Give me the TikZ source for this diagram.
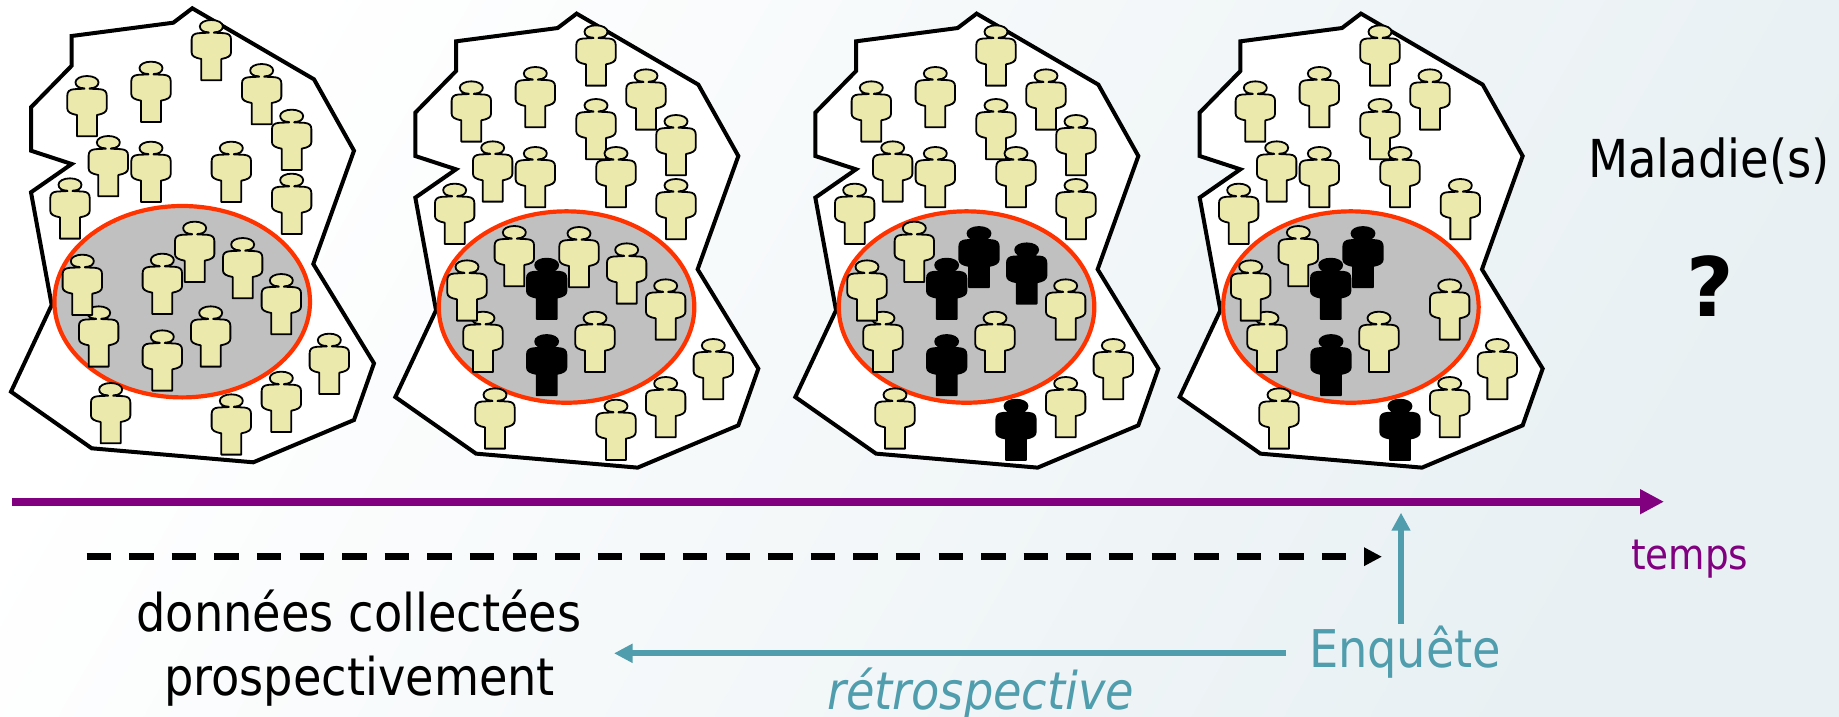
\documentclass[tikz,border=0pt]{standalone}
\usepackage{fontspec}
\usetikzlibrary{arrows.meta}
\setmainfont{DejaVu Sans}[FakeStretch=0.89]
\newfontfamily\qfont{DejaVu Sans}[FakeStretch=1.0]
\definecolor{bgdark}{HTML}{E8F0F3}
\definecolor{manfill}{HTML}{ECE9AC}
\definecolor{ellred}{HTML}{FF3300}
\definecolor{ellgrey}{HTML}{C0C0C0}
\definecolor{tealc}{HTML}{4F9DAD}
\definecolor{purplec}{HTML}{800080}
\def\manpath{(2.5,12.7) -- (13,13.2) .. controls (17.5,13.6) and (19.7,15.5) .. (19.7,19.5)
      -- (19.7,32.5) .. controls (19.7,36) and (16.5,37.8) .. (10,39)
      -- (10,60.3) -- (-10,60.3) -- (-10,39)
      .. controls (-16.5,37.8) and (-19.7,36) .. (-19.7,32.5)
      -- (-19.7,19.5) .. controls (-19.7,15.5) and (-17.5,13.6) .. (-13,13.2)
      -- (-2.5,12.7) -- (-3,12.3)
      .. controls (-8,12.3) and (-11.5,10) .. (-11.5,6.3)
      .. controls (-11.5,2.8) and (-6.5,0) .. (0,0)
      .. controls (6.5,0) and (11.5,2.8) .. (11.5,6.3)
      .. controls (11.5,10) and (8,12.3) .. (3,12.3) -- cycle}
\tikzset{
  x=1pt,y=-1pt,
  territory/.style={draw=black,fill=white,line width=4pt,miter limit=10},
  sickzone/.style={draw=ellred,fill=ellgrey,line width=4.2pt},
  lbl/.style={anchor=base west,inner sep=0pt,outer sep=0pt},
  pics/yman/.style={code={
    \path[draw=black,fill=manfill,line width=1.8pt,line join=round] \manpath;
  }},
  pics/bman/.style={code={
    \path[draw=black,fill=black,line width=1.8pt,line join=round] \manpath;
  }},
}
\newcommand\zone[2]{%
  \begin{scope}[shift={(#1,#2)}]
    \draw[territory] (192.3,8.3) -- (173.3,22.7) -- (71.7,36) -- (71.7,65.7) -- (31,107.3) -- (31,150.7) -- (71.7,164) -- (31,192.3) -- (51.7,305) -- (11,391.7) -- (91.7,448.3) -- (253.3,462.3) -- (354,420) -- (374,363.3) -- (313.3,264) -- (354,150.7) -- (314,79.3) -- cycle;
    \draw[sickzone] (182.2,301.7) ellipse [x radius=127.8, y radius=95.7];
  \end{scope}}
\begin{document}
\begin{tikzpicture}
\useasboundingbox (0,0) rectangle (1839,717);
\shade[top color=white,bottom color=bgdark,shading angle=60] (0,0) rectangle (1839,717);

\zone{0}{0}
\zone{384.33}{5.33}
\zone{784.33}{5.33}
\zone{1168.67}{5.33}

\foreach \a/\b in {634/60,453/185,785/192,261/228,875/329,325/408,453/425,694/425,875/521,210/535,584/665,728/714,487/761,296/919,247/764,844/822,632/919,487/991,988/1001,844/1115,332/1149,694/1183}
  \path ({\a/3},{\b/3}) pic {yman};

\begin{scope}[shift={(380,0)}]
\foreach \a/\b in {648/76,466/201,798/208,274/244,648/297,888/345,338/424,466/441,708/441,888/537,224/551,403/678,597/681,740/730,309/935,261/781,857/838,645/935,1000/1017,857/1131,345/1165,708/1199}
  \path ({\a/3},{\b/3}) pic {yman};
\foreach \a/\b in {500/776,500/1005}
  \path ({\a/3},{\b/3}) pic {bman};
\end{scope}

\begin{scope}[shift={(780,0)}]
\foreach \a/\b in {648/76,466/201,798/208,274/244,648/297,888/345,338/424,466/441,708/441,888/537,224/551,403/665,309/935,261/781,857/838,645/935,1000/1017,857/1131,345/1165}
  \path ({\a/3},{\b/3}) pic {yman};
\foreach \a/\b in {597/681,740/730,500/776,500/1005,708/1199}
  \path ({\a/3},{\b/3}) pic {bman};
\end{scope}

\begin{scope}[shift={(1180,0)}]
\foreach \a/\b in {600/76,418/201,750/208,226/244,600/297,290/424,418/441,660/441,841/537,176/551,355/678,261/935,212/781,809/838,597/935,952/1017,809/1131,297/1165}
  \path ({\a/3},{\b/3}) pic {yman};
\foreach \a/\b in {549/681,452/776,453/1005,660/1199}
  \path ({\a/3},{\b/3}) pic {bman};
\end{scope}

% time axis
\coordinate (tstart) at (12,501.7);
\coordinate (tend) at (1664,501.7);
\draw[purplec,line width=8pt,-{Triangle[length=24pt,width=23.5pt]}] (tstart) -- (tend);
% dashed
\coordinate (dstart) at (86.5,556.7);
\coordinate (dend) at (1382,556.7);
\draw[black,line width=6.7pt,dash pattern=on 24.5pt off 18.1pt,-{Triangle[length=18pt,width=17.5pt]}] (dstart) -- (dend);
% survey arrows
\coordinate (estart) at (1401,624);
\coordinate (eend) at (1401,512.7);
\draw[tealc,line width=5.7pt,-{Triangle[length=18pt,width=18pt]}] (estart) -- (eend);
\coordinate (rstart) at (1286,653.3);
\coordinate (rend) at (614,653.3);
\draw[tealc,line width=6.3pt,-{Triangle[length=18.5pt,width=18pt]}] (rstart) -- (rend);

% labels
\node[lbl,font=\fontsize{52.3}{52}\selectfont] (mal) at (1588,177.7) {Maladie(s)};
\node[lbl,font=\qfont\fontsize{82}{82}\selectfont\bfseries] (q) at (1686,316.7) {?};
\node[lbl,font=\fontsize{42}{42}\selectfont,purplec] (tps) at (1631,569) {temps};
\node[lbl,font=\fontsize{52}{52}\selectfont,tealc] (enq) at (1309,667) {Enquête};
\node[lbl,font=\fontsize{52}{52}\selectfont] (don) at (136.5,631.7) {données collectées};
\node[lbl,font=\fontsize{52}{52}\selectfont] (pro) at (164,695.7) {prospectivement};
\node[lbl,font=\fontsize{52}{52}\selectfont\itshape,tealc] (ret) at (827,709) {rétrospective};
\end{tikzpicture}
\end{document}
